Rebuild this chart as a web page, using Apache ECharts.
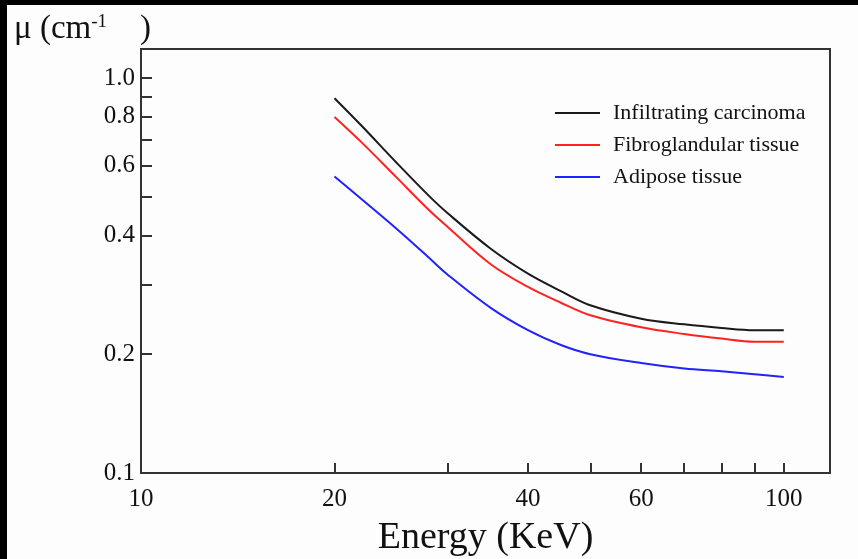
<!DOCTYPE html>
<html lang="en">
<head>
	<meta charset="UTF-8">
	<title>Attenuation</title>
	<script src="https://cdn.jsdelivr.net/npm/echarts@6/dist/echarts.min.js"></script>
	<style>
		html, body { margin: 0; padding: 0; background: #fdfdfd; }
		#chart { width: 858px; height: 559px; }
	</style>
</head>
<body>
	<div id="chart"></div>
	<script type="text/javascript">
	// energy in KeV, mu in cm^-1
	var energy = [20, 22, 25, 28, 30, 35, 40, 45, 50, 60, 70, 80, 90, 100];
	var carcinoma = [0.890, 0.760, 0.610, 0.505, 0.455, 0.370, 0.320, 0.289, 0.266, 0.246, 0.238, 0.233, 0.230, 0.230];
	var fibro = [0.798, 0.690, 0.560, 0.465, 0.420, 0.338, 0.296, 0.270, 0.251, 0.234, 0.225, 0.219, 0.215, 0.215];
	var adipose = [0.564, 0.495, 0.415, 0.352, 0.318, 0.262, 0.230, 0.211, 0.200, 0.190, 0.184, 0.181, 0.178, 0.175];

	var names = ['Infiltrating carcinoma', 'Fibroglandular tissue', 'Adipose tissue'];
	var colors = ['#1a1a1a', '#ff2222', '#2222ff'];

	var xTicks = [20, 30, 40, 50, 60, 70, 80, 90, 100];
	var xLabels = [10, 20, 40, 60, 100];
	var yTicks = [0.2, 0.3, 0.4, 0.5, 0.6, 0.7, 0.8, 0.9, 1.0];
	var yLabels = [0.1, 0.2, 0.4, 0.6, 0.8, 1.0];

	function pairs(ys) {
		var out = [];
		for (var i = 0; i < energy.length; i++) out.push([energy[i], ys[i]]);
		return out;
	}

	var chart = echarts.init(document.getElementById('chart'));
	var font = 'Liberation Serif';
	var axisColor = '#333';

	var series = [carcinoma, fibro, adipose].map(function (ys, i) {
		return {
			name: names[i],
			type: 'line',
			data: pairs(ys),
			smooth: 0.35,
			showSymbol: false,
			lineStyle: { color: colors[i], width: 2 },
			itemStyle: { color: colors[i] }
		};
	});

	var option = {
		backgroundColor: '#fdfdfd',
		animation: false,
		graphic: [
			{ type: 'rect', left: 0, top: 0, shape: { width: 7, height: 559 }, style: { fill: '#000' } },
			{ type: 'rect', left: 0, top: 0, shape: { width: 858, height: 5 }, style: { fill: '#000' } },
			// y axis title, top left corner
			{
				type: 'text', left: 14, top: 13,
				style: {
					text: '{a|μ (cm}{s|-1}{a|    )}',
					rich: {
						a: { fontFamily: font, fontSize: 33, fill: '#111' },
						s: { fontFamily: font, fontSize: 19, fill: '#111', verticalAlign: 'top', padding: [0, 0, 12, 0] }
					}
				}
			}
		],
		grid: {
			left: 141, right: 28, top: 49, bottom: 86,
			outerBoundsMode: 'none',
			show: true, borderColor: axisColor, borderWidth: 2, backgroundColor: 'transparent'
		},
		legend: {
			orient: 'vertical',
			left: 550, top: 97,
			itemWidth: 45, itemHeight: 2, itemGap: 10,
			icon: 'rect',
			data: names,
			textStyle: { fontFamily: font, fontSize: 22, color: '#111', lineHeight: 22, padding: [0, 0, 0, 8] }
		},
		xAxis: {
			type: 'log',
			min: 10, max: 118,
			name: 'Energy (KeV)',
			nameLocation: 'middle',
			nameGap: 46,
			nameTextStyle: { fontFamily: font, fontSize: 38, color: '#111' },
			axisLine: { show: true, lineStyle: { color: axisColor, width: 2 } },
			axisTick: { show: true, inside: true, length: 10, customValues: xTicks, lineStyle: { color: axisColor, width: 2 } },
			axisLabel: { customValues: xLabels, fontFamily: font, fontSize: 25, color: '#111', margin: 14 },
			splitLine: { show: false }
		},
		yAxis: {
			type: 'log',
			min: 0.1, max: 1.186,
			axisLine: { show: true, lineStyle: { color: axisColor, width: 2 } },
			axisTick: { show: true, inside: true, length: 11, customValues: yTicks, lineStyle: { color: axisColor, width: 2 } },
			axisLabel: {
				customValues: yLabels, fontFamily: font, fontSize: 25, color: '#111', margin: 6,
				formatter: function (v) { return v.toFixed(1); }
			},
			splitLine: { show: false }
		},
		series: series
	};
	chart.setOption(option);
	</script>
</body>
</html>
